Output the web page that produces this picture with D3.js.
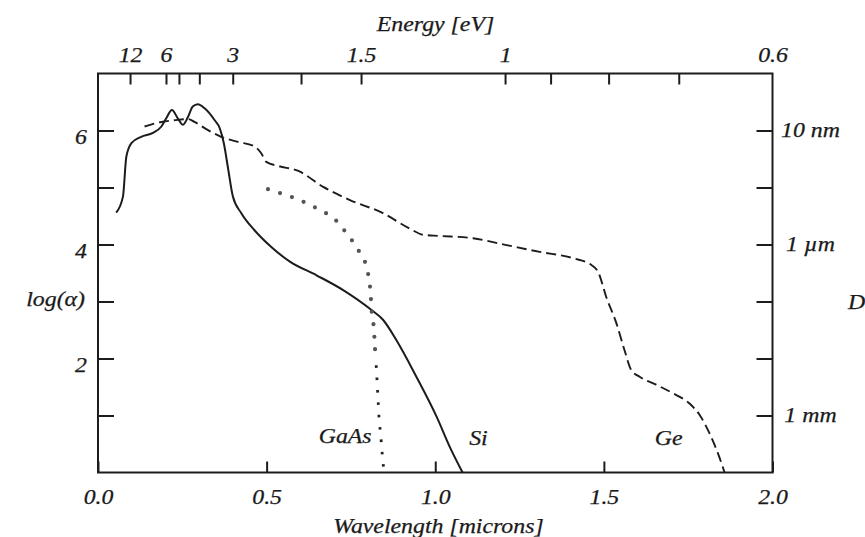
<!DOCTYPE html>
<html>
<head>
<meta charset="utf-8">
<script src="https://cdn.jsdelivr.net/npm/d3@7"></script>
<style>
  html, body { margin: 0; padding: 0; background: #fff; }
  svg text { font-family: "Liberation Serif", "Times New Roman", serif; font-style: italic; fill: #1a1a1a; stroke: #1a1a1a; stroke-width: 0.25px; }
</style>
</head>
<body>
<svg id="chart" width="865" height="537"></svg>
<script>
// ---- data ----
// Si absorption (solid): [wavelength µm, log(alpha)]
const siCurve = [
  [0.054,4.56],[0.074,4.84],[0.084,5.54],[0.099,5.78],[0.128,5.89],[0.163,5.96],
  [0.188,6.07],[0.202,6.21],[0.219,6.36],[0.237,6.21],[0.252,6.10],[0.267,6.24],
  [0.281,6.42],[0.296,6.46],[0.316,6.39],[0.346,6.18],[0.361,6.04],[0.373,5.78],
  [0.385,5.36],[0.400,4.84],[0.425,4.55],[0.464,4.25],[0.513,3.96],[0.569,3.70],
  [0.648,3.46],[0.727,3.20],[0.811,2.85],[0.845,2.68],[0.885,2.32],[0.944,1.68],
  [1.004,0.98],[1.043,0.45],[1.081,0.0]
];
// Ge absorption (dashed)
const geCurve = [
  [0.138,6.07],[0.188,6.15],[0.227,6.18],[0.267,6.20],[0.286,6.15],[0.325,6.01],
  [0.365,5.89],[0.415,5.80],[0.464,5.72],[0.484,5.60],[0.499,5.45],[0.533,5.38],
  [0.594,5.29],[0.668,5.01],[0.747,4.78],[0.845,4.55],[0.924,4.28],[0.964,4.17],
  [1.013,4.15],[1.112,4.11],[1.211,3.99],[1.310,3.87],[1.409,3.76],[1.463,3.64],
  [1.483,3.52],[1.507,3.08],[1.537,2.62],[1.561,2.15],[1.581,1.80],[1.606,1.68],
  [1.655,1.54],[1.705,1.39],[1.754,1.21],[1.784,1.01],[1.813,0.69],[1.838,0.34],
  [1.858,0.0]
];
// GaAs absorption (dotted): upper part (large dots) and lower part (small dots)
const gaasUpper = [
  [0.504,4.97],[0.541,4.90],[0.576,4.83],[0.609,4.75],[0.644,4.65],[0.676,4.55],
  [0.706,4.42],[0.730,4.25],[0.752,4.08],[0.772,3.90],[0.790,3.72],[0.800,3.51],
  [0.806,3.29],[0.809,3.08],[0.811,2.86],[0.816,2.65],[0.819,2.43],[0.821,2.21],
  [0.824,1.97]
];
const gaasLower = [
  [0.824,1.97],[0.826,1.77],[0.828,1.55],[0.830,1.33],[0.832,1.11],[0.834,0.89],
  [0.838,0.68],[0.841,0.45],[0.844,0.25],[0.848,0.0]
];
const curveLabels = [
  {text: "GaAs", x: 0.733, y: 0.52},
  {text: "Si",   x: 1.128, y: 0.48},
  {text: "Ge",   x: 1.692, y: 0.48}
];
// axes
const xTicks = [0.0, 0.5, 1.0, 1.5, 2.0];
const yTicks = [1, 2, 3, 4, 5, 6];
const yLabels = {6: "6", 4: "4", 2: "2"};
const depthLabels = {6: "10 nm", 4: "1 \u00b5m", 1: "1 mm"};
const energyTicks = [12, 6, 5, 4, 3, 2, 1.5, 1, 0.9, 0.8, 0.7, 0.6];
const energyTickWavelengths = [0.095, 0.2016, 0.240, 0.3004, 0.3995, 0.602, 0.780, 1.207, 1.342, 1.514, 1.722, 2.0];
const energyLabeled = [12, 6, 3, 1.5, 1, 0.6];

// ---- drawing ----
const svg = d3.select("#chart");
const L = 98, R = 772.5, T = 73.5, B = 472.5;
const x = d3.scaleLinear().domain([0, 2]).range([L, R]);
const y = d3.scaleLinear().domain([0, 7]).range([B, T]);
const ink = "#1c1c1c";
const FS = 20;

const line = d3.line().x(d => x(d[0])).y(d => y(d[1])).curve(d3.curveMonotoneX);

// curves
svg.append("path").attr("d", line(siCurve)).attr("fill", "none")
  .attr("stroke", ink).attr("stroke-width", 2);
svg.append("path").attr("d", line(geCurve)).attr("fill", "none")
  .attr("stroke", ink).attr("stroke-width", 1.9).attr("stroke-dasharray", "10,5");
const lineC = d3.line().x(d => x(d[0])).y(d => y(d[1])).curve(d3.curveCatmullRom);
svg.append("path").attr("d", lineC(gaasUpper)).attr("fill", "none")
  .attr("stroke", "#555").attr("stroke-width", 4.2).attr("stroke-linecap", "round")
  .attr("stroke-dasharray", "0,12.6");
svg.append("path").attr("d", lineC(gaasLower)).attr("fill", "none")
  .attr("stroke", "#222").attr("stroke-width", 2.8).attr("stroke-linecap", "butt")
  .attr("stroke-dasharray", "2.6,9.8").attr("stroke-dashoffset", -5);

// frame
svg.append("rect").attr("x", L).attr("y", T).attr("width", R - L).attr("height", B - T)
  .attr("fill", "none").attr("stroke", ink).attr("stroke-width", 2);

function styleAxis(g) {
  g.select(".domain").remove();
  g.selectAll(".tick line").attr("stroke", ink).attr("stroke-width", 2);
  g.selectAll(".tick text").attr("font-size", FS).attr("font-family", null).attr("fill", ink);
}

// bottom axis
svg.append("g").attr("transform", `translate(0,${B})`)
  .call(d3.axisBottom(x).tickValues(xTicks).tickSizeInner(-11).tickSizeOuter(0)
    .tickPadding(17).tickFormat(d3.format(".1f")))
  .call(styleAxis);

// top energy axis
svg.append("g").attr("transform", `translate(0,${T})`)
  .call(d3.axisTop(x).tickValues(energyTickWavelengths)
    .tickSizeInner(-11).tickSizeOuter(0).tickPadding(12)
    .tickFormat((d, i) => energyLabeled.includes(energyTicks[i]) ? String(energyTicks[i]) : ""))
  .call(styleAxis)
  .call(g => g.selectAll(".tick").filter((d, i) => i === energyTicks.length - 1).select("line").remove());

// left axis
svg.append("g").attr("transform", `translate(${L},0)`)
  .call(d3.axisLeft(y).tickValues(yTicks).tickSizeInner(-16).tickSizeOuter(0)
    .tickPadding(11).tickFormat(d => yLabels[d] || ""))
  .call(styleAxis)
  .call(g => g.selectAll(".tick text").attr("dy", "0.64em"));

// right axis
svg.append("g").attr("transform", `translate(${R},0)`)
  .call(d3.axisRight(y).tickValues(yTicks).tickSizeInner(-16).tickSizeOuter(0)
    .tickPadding(38).tickFormat(d => depthLabels[d] || ""))
  .call(styleAxis)
  .call(g => g.selectAll(".tick text").attr("text-anchor", "middle"));

// titles
svg.append("text").attr("x", 435.5).attr("y", 31).attr("text-anchor", "middle")
  .attr("font-size", FS).text("Energy [eV]");
svg.append("text").attr("x", 438.5).attr("y", 533).attr("text-anchor", "middle")
  .attr("font-size", FS).text("Wavelength [microns]");
svg.append("text").attr("x", 85).attr("y", 306).attr("text-anchor", "end")
  .attr("font-size", FS).text("log(\u03b1)");
svg.append("text").attr("x", 848).attr("y", 309).attr("text-anchor", "start")
  .attr("font-size", FS).text("D");

// curve labels
svg.selectAll("text.clabel").data(curveLabels).join("text").attr("class", "clabel")
  .attr("x", d => x(d.x)).attr("y", d => y(d.y)).attr("text-anchor", "middle")
  .attr("font-size", FS).text(d => d.text);

// the printed figure is horizontally stretched: widen glyphs accordingly
svg.selectAll("text").each(function () {
  const t = this.textContent;
  if (!t) return;
  const len = this.getComputedTextLength();
  d3.select(this).attr("textLength", len * 1.19).attr("lengthAdjust", "spacingAndGlyphs");
});
</script>
</body>
</html>
